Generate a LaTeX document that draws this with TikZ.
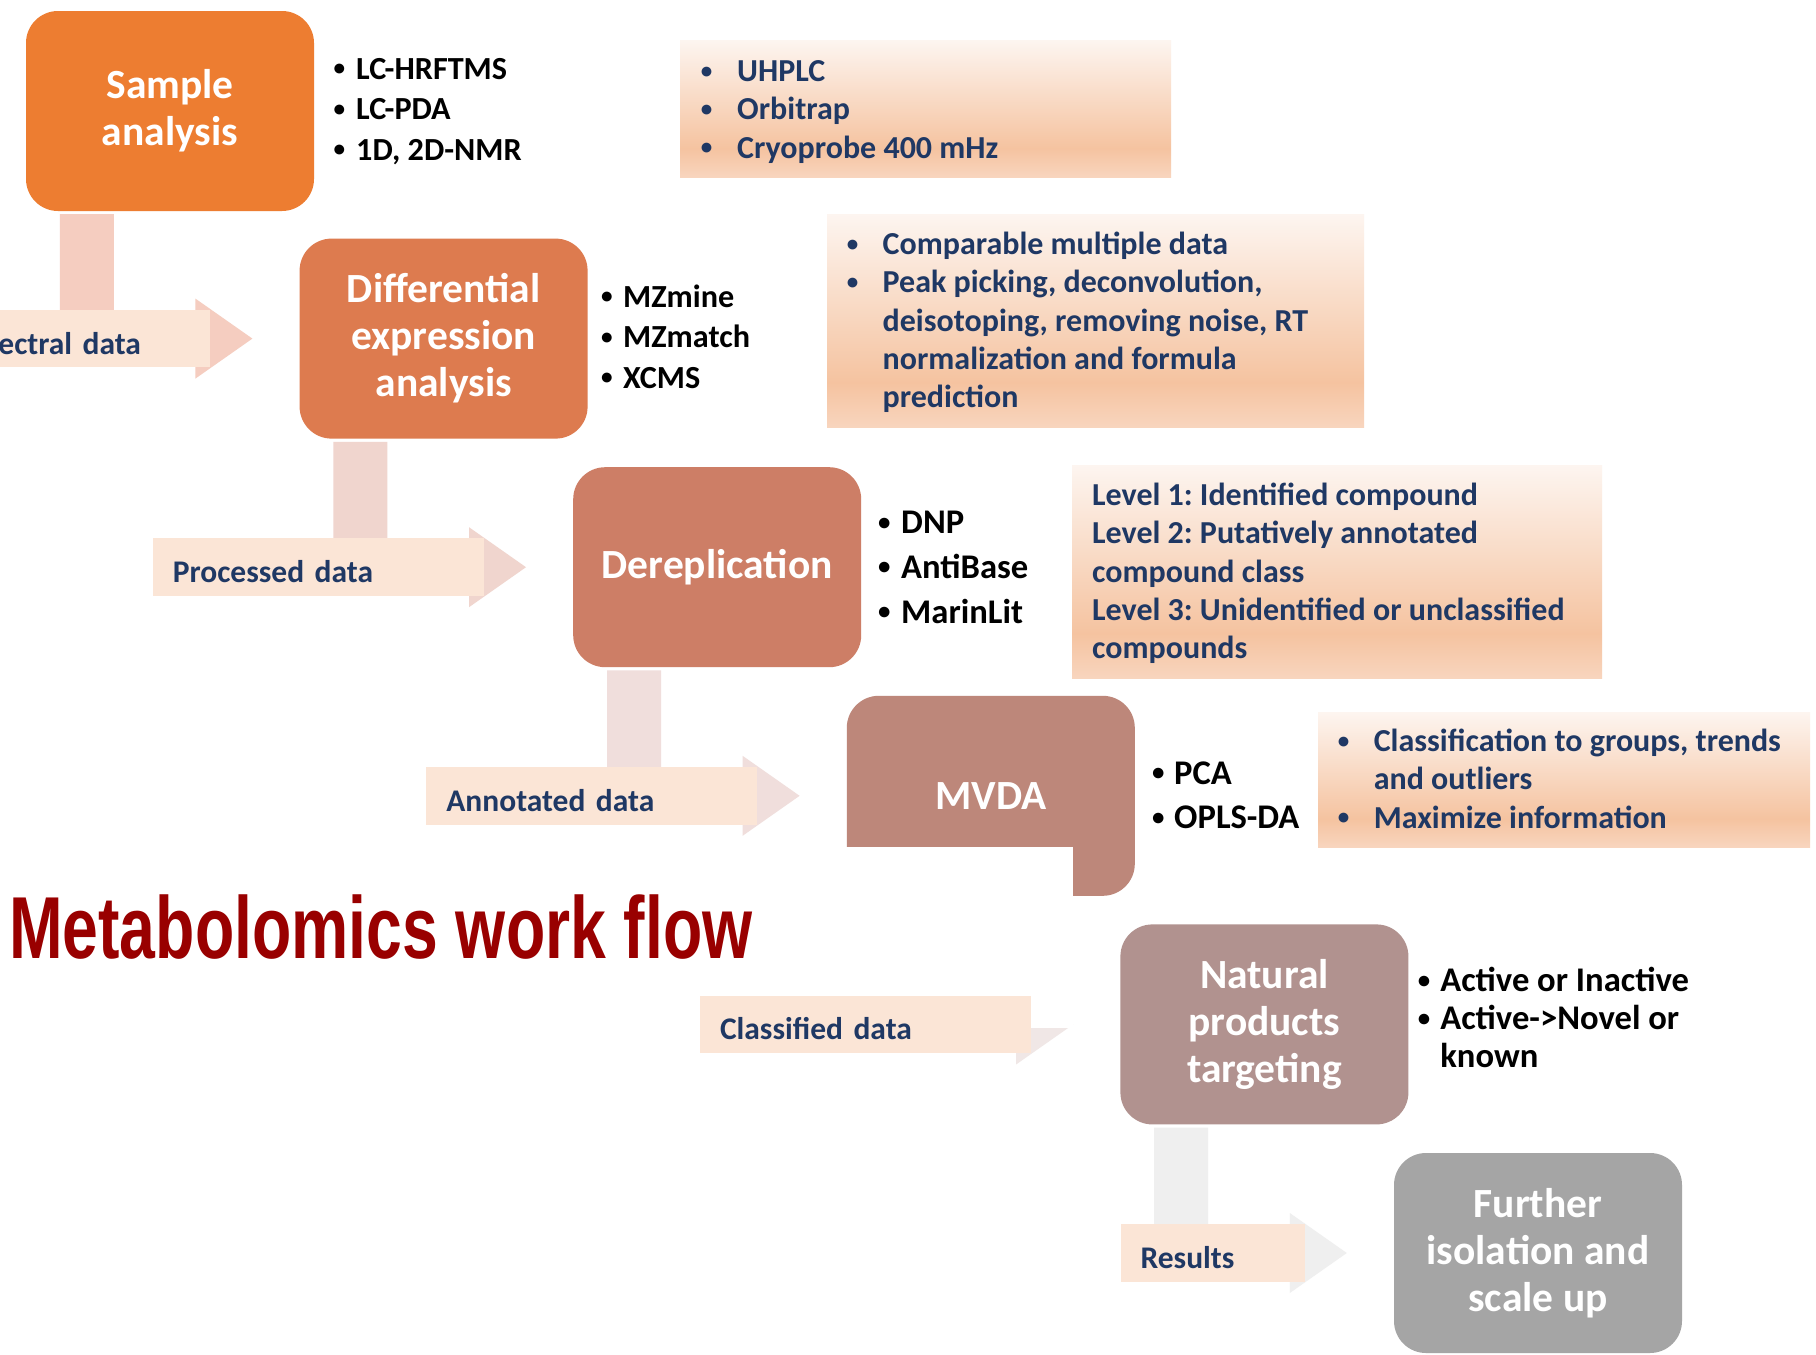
\documentclass[tikz,border=0pt]{standalone}
\usepackage{fontspec}
\setmainfont{Carlito}
\newfontfamily\titlefont{Liberation Sans}
\usetikzlibrary{calc}
\frenchspacing

% step colours, orange fading to grey
\definecolor{stepA}{RGB}{237,125,49}
\definecolor{stepB}{RGB}{221,123,79}
\definecolor{stepC}{RGB}{205,126,102}
\definecolor{stepD}{RGB}{189,135,122}
\definecolor{stepE}{RGB}{177,146,143}
\definecolor{stepF}{RGB}{165,165,165}
% bent connector tints
\definecolor{bendA}{RGB}{245,205,192}
\definecolor{bendB}{RGB}{240,213,206}
\definecolor{bendC}{RGB}{240,222,220}
\definecolor{bendD}{RGB}{240,231,230}
\definecolor{bendE}{RGB}{239,239,239}
\definecolor{labfill}{RGB}{251,229,214}
\definecolor{navy}{RGB}{31,56,100}
\definecolor{titlered}{RGB}{153,0,0}
% peach gradient of the note panels
\definecolor{ptop}{RGB}{253,245,240}
\definecolor{pmid}{RGB}{245,195,160}
\definecolor{pbot}{RGB}{248,213,190}
\pgfdeclareverticalshading{peachgrad}{100bp}{color(0bp)=(pbot); color(25bp)=(pbot); color(35.5bp)=(pmid); color(75bp)=(ptop); color(100bp)=(ptop)}

% small bullet
\newcommand\smallbul{\raisebox{0.1em}{\scalebox{0.72}{\textbullet}}}

\tikzset{
  stepbox/.style={rectangle, rounded corners=32pt, minimum width=288pt, minimum height=200pt,
    inner sep=0pt, align=center, text=white, font=\fontsize{41.5}{47}\selectfont\bfseries},
  notepanel/.style={rectangle, shade, shading=peachgrad, inner sep=0pt, anchor=north west},
  datalabel/.style={rectangle, fill=labfill, minimum height=57.5pt, inner xsep=20pt, inner ysep=0pt,
    text height=31pt, text depth=0pt,
    text=navy, align=left, anchor=east, font=\fontsize{31.5}{36}\selectfont\bfseries},
  toolsmall/.style={anchor=base west, inner sep=0pt, font=\fontsize{32.2}{40.6}\selectfont\bfseries},
  toolbig/.style={anchor=base west, inner sep=0pt, font=\fontsize{34.6}{44.8}\selectfont\bfseries},
  notetext/.style={anchor=base west, inner sep=0pt, text=navy, font=\fontsize{32}{38.3}\selectfont\bfseries},
}

% bent arrow leaving the bottom of #1 and pointing at the left side of #2
\newcommand\bendarrow[3]{%
  \fill[#3] let \p1=(#1.south west), \p2=(#2.west) in
    (\x1+34pt,\y1-3pt) -- (\x1+88pt,\y1-3pt) -- (\x1+88pt,\y2+27pt)
    -- (\x2-104pt,\y2+27pt) -- (\x2-104pt,\y2+40pt) -- (\x2-47pt,\y2)
    -- (\x2-104pt,\y2-40pt) -- (\x2-104pt,\y2-27pt) -- (\x1+34pt,\y2-27pt) -- cycle;}

\begin{document}
\begin{tikzpicture}[x=1pt,y=-1pt]
\useasboundingbox (0,0) rectangle (1816,1355);
\clip (0,0) rectangle (1816,1355);
\fill[white] (0,0) rectangle (1816,1355);

% process steps
\node[stepbox, fill=stepA] (b1) at (170,111) {Sample\\analysis};
\node[stepbox, fill=stepB] (b2) at (443.6,338.6) {Differential\\expression\\analysis};
\node[stepbox, fill=stepC] (b3) at (717.2,567.2) {Dereplication};
\node[stepbox, fill=stepD] (b4) at (990.8,795.8) {MVDA};
\node[stepbox, fill=stepE] (b5) at (1264.4,1024.4) {Natural\\products\\targeting};
\node[stepbox, fill=stepF] (b6) at (1538,1253) {Further\\isolation and\\scale up};

% connectors between the steps
\bendarrow{b1}{b2}{bendA}
\bendarrow{b2}{b3}{bendB}
\bendarrow{b3}{b4}{bendC}
\bendarrow{b4}{b5}{bendD}
\bendarrow{b5}{b6}{bendE}

\node[datalabel, text width=223.6pt] (l1) at ($(b2.west)+(-89,0)$) {Spectral data};
\node[datalabel, text width=291pt] (l2) at ($(b3.west)+(-89,0)$) {Processed data};
\node[datalabel, text width=291pt] (l3) at ($(b4.west)+(-89,0)$) {Annotated data};
\node[datalabel, text width=144pt] (l5) at ($(b6.west)+(-89,0)$) {Results};

% title panel
\node[fill=white, anchor=north west, minimum width=1073pt, minimum height=181pt, inner sep=0pt] (tpanel) at (0,847) {};
\node[anchor=base west, inner sep=0pt, text=titlered, font={\titlefont\bfseries\fontsize{88}{90}\selectfont}] (title) at (9,958) {\scalebox{0.731}[1]{Metabolomics work flow}};

\node[datalabel, text width=291pt] (l4) at ($(b5.west)+(-89,0)$) {Classified data};

% tools beside each step
\node[toolsmall] (t1) at (333.5,79) {\begin{tabular}[t]{@{}p{22.5pt}@{}l@{}}\smallbul&LC-HRFTMS\\\smallbul&LC-PDA\\\smallbul&1D, 2D-NMR\end{tabular}};
\node[toolsmall] (t2) at (601,307) {\begin{tabular}[t]{@{}p{22pt}@{}l@{}}\smallbul&MZmine\\\smallbul&MZmatch\\\smallbul&XCMS\end{tabular}};
\node[toolbig] (t3) at (878,533.5) {\begin{tabular}[t]{@{}p{23pt}@{}l@{}}\smallbul&DNP\\\smallbul&AntiBase\\\smallbul&MarinLit\end{tabular}};
\node[toolbig] (t4) at (1152,784) {\begin{tabular}[t]{@{}p{22pt}@{}l@{}}\smallbul&PCA\\\smallbul&OPLS-DA\end{tabular}};
\node[toolbig] (t5) at (1417.6,991.5) {\begin{tabular}[t]{@{}p{22.5pt}@{}l@{}}\smallbul&Active or Inactive\\[-6.8pt]\smallbul&Active->Novel or\\[-6.8pt]&known\end{tabular}};

% note panels
\node[notepanel, minimum width=491pt, minimum height=137pt] (n1) at (680,40) {};
\node[notetext] (n1t) at (700.7,81.5) {\begin{tabular}[t]{@{}p{36.3pt}@{}l@{}}\smallbul&UHPLC\\\smallbul&Orbitrap\\\smallbul&Cryoprobe 400 mHz\end{tabular}};

\node[notepanel, minimum width=537pt, minimum height=213pt] (n2) at (827,214) {};
\node[notetext] (n2t) at (846.6,254.5) {\begin{tabular}[t]{@{}p{35.9pt}@{}l@{}}\smallbul&Comparable multiple data\\\smallbul&Peak picking, deconvolution,\\&deisotoping, removing noise, RT\\&normalization and formula\\&prediction\end{tabular}};

\node[notepanel, minimum width=530pt, minimum height=213pt] (n3) at (1072,465) {};
\node[notetext] (n3t) at (1092,505.5) {\begin{tabular}[t]{@{}l@{}}Level 1: Identified compound\\Level 2: Putatively annotated\\compound class\\Level 3: Unidentified or unclassified\\compounds\end{tabular}};

\node[notepanel, minimum width=492pt, minimum height=135pt] (n4) at (1318,712) {};
\node[notetext] (n4t) at (1337.7,751.5) {\begin{tabular}[t]{@{}p{35.9pt}@{}l@{}}\smallbul&Classification to groups, trends\\&and outliers\\\smallbul&Maximize information\end{tabular}};
\end{tikzpicture}
\end{document}
